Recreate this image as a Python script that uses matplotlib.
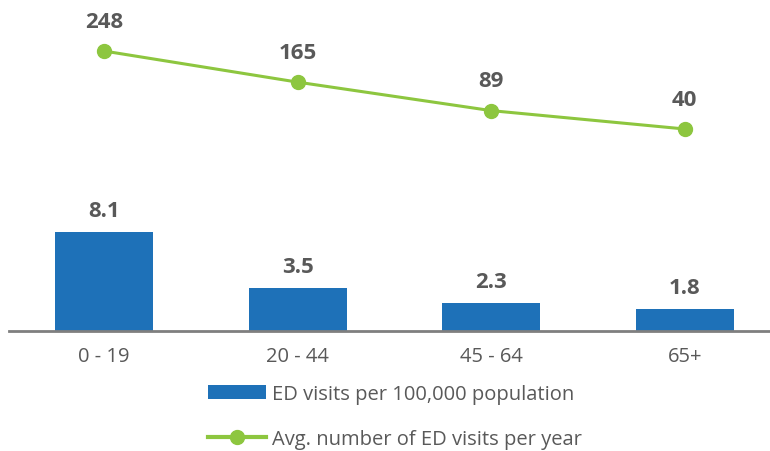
import matplotlib
matplotlib.use("Agg")
import matplotlib.pyplot as plt
from matplotlib.patches import Patch
from matplotlib.lines import Line2D

plt.rcParams['font.family'] = ['Open Sans', 'DejaVu Sans']

# data
groups = ["0 - 19", "20 - 44", "45 - 64", "65+"]
visits_per_100k = [8.1, 3.5, 2.3, 1.8]
avg_visits = [248, 165, 89, 40]
visits_labels = ["8.1", "3.5", "2.3", "1.8"]

blue = "#1e71b8"
green = "#8dc63f"
grey = "#595959"

fig = plt.figure(figsize=(7.7, 4.52), dpi=100)
ax = fig.add_axes([9 / 770, 120 / 452, 761 / 770, 322 / 452])
x = list(range(len(groups)))

ax.bar(x, visits_per_100k, width=0.506, color=blue, zorder=2)
for xi, v, lab in zip(x, visits_per_100k, visits_labels):
    ax.annotate(lab, (xi, v), xytext=(0, 8), textcoords="offset points",
                ha="center", va="bottom", fontsize=16, fontweight="bold", color=grey)
ax.set_ylim(0, 26.35)
ax.set_xlim(-0.49, 3.44)
ax.set_yticks([])
ax.set_xticks(x)
ax.set_xticklabels(groups, fontsize=14.5, color=grey)
ax.tick_params(axis="x", length=0, pad=11)
for s in ["top", "right", "left"]:
    ax.spines[s].set_visible(False)
ax.spines["bottom"].set_color("#7f7f7f")
ax.spines["bottom"].set_linewidth(2)

ax2 = ax.twinx()
ax2.plot(x, avg_visits, color=green, linewidth=2.2, marker="o", markersize=10, zorder=3)
for xi, v in zip(x, avg_visits):
    ax2.annotate(str(v), (xi, v), xytext=(0, 14), textcoords="offset points",
                 ha="center", va="bottom", fontsize=16, fontweight="bold", color=grey)
ax2.set_ylim(-498.7, 360)
ax2.set_yticks([])
for s in ["top", "right", "left", "bottom"]:
    ax2.spines[s].set_visible(False)

handles = [Patch(facecolor=blue, edgecolor="none"),
           Line2D([], [], color=green, linewidth=3, marker="o", markersize=10)]
labels = ["ED visits per 100,000 population", "Avg. number of ED visits per year"]
fig.legend(handles, labels, loc="upper left", bbox_to_anchor=(200 / 770, 1 - 377 / 452),
           frameon=False, fontsize=14.5, labelcolor=grey, handlelength=2.9,
           handletextpad=0.3, labelspacing=1.25, borderaxespad=0)

fig.savefig("out.png", dpi=100)
